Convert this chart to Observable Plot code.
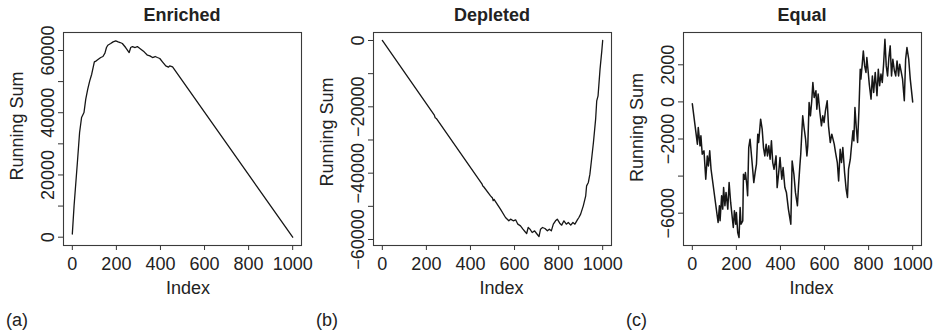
<!DOCTYPE html>
<html><head><meta charset="utf-8">
<script src="https://cdn.jsdelivr.net/npm/d3@7"></script>
<script src="https://cdn.jsdelivr.net/npm/@observablehq/plot@0.6"></script>
<style>
body{margin:0;background:#fff;}
#wrap{position:relative;width:938px;height:335px;overflow:hidden;font-family:"Liberation Sans",Arial,Helvetica,sans-serif;}
#wrap svg{position:absolute;top:0;}
</style></head><body><div id="wrap"></div>
<script>
const panelTitles = ["Enriched", "Depleted", "Equal"];
const panelTags = ["(a)", "(b)", "(c)"];
const xLabel = "Index";
const yLabel = "Running Sum";
const xTicks = [0, 200, 400, 600, 800, 1000];

const enrichedIndex = [0, 8, 23, 33, 42, 53, 61, 70, 79, 88,
  100, 109, 118, 129, 139, 148, 155, 161, 174, 185,
  197, 208, 217, 227, 242, 258, 265, 273, 285, 295,
  311, 326, 341, 352, 364, 376, 386, 397, 409, 424,
  436, 442, 455, 1000];
const enrichedSum = [1000, 10080, 24000, 33640, 38460, 40070, 44350, 47560, 50240, 52380,
  56350, 56670, 57200, 57740, 58060, 59130, 60950, 61700, 62240, 62770,
  63090, 62770, 62560, 62240, 60950, 59340, 60950, 61270, 60950, 61270,
  60420, 59560, 58490, 58270, 57740, 58060, 57740, 57420, 56350, 55060,
  54630, 55060, 54740, 0];
const enrichedYTicks = [0, 10000, 20000, 30000, 40000, 50000, 60000];
const enrichedYLabels = [0, 20000, 40000, 60000];

const depletedIndex = [0, 236, 240, 245, 452, 456, 460, 491, 500, 503,
  507, 536, 559, 574, 582, 594, 605, 615, 627, 638,
  647, 655, 662, 670, 680, 691, 700, 711, 718, 727,
  738, 749, 758, 767, 776, 786, 794, 805, 814, 824,
  835, 844, 855, 865, 874, 885, 892, 900, 912, 923,
  927, 935, 942, 948, 958, 968, 973, 979, 988, 996, 1000];
const depletedSum = [0, -22500, -23300, -23500, -43200, -43900, -44100, -46830, -47500, -48300,
  -47900, -50850, -53370, -54370, -53870, -54370, -54070, -55380, -55880, -56880,
  -57590, -58190, -56380, -56880, -57890, -57390, -58190, -59100, -56880, -56380,
  -56680, -57390, -56880, -57390, -55380, -54370, -53870, -55080, -55680, -54370,
  -55380, -54880, -55680, -54880, -55380, -54070, -53370, -52360, -49850, -46830,
  -43820, -42810, -40300, -36780, -30750, -23720, -18190, -16680, -8640, -3120, 0];
const depletedYTicks = [0, -10000, -20000, -30000, -40000, -50000, -60000];
const depletedYLabels = [0, -20000, -40000, -60000];

const equalIndex = [0, 23, 27, 35, 39, 45, 53, 61, 68, 73,
  79, 85, 117, 123, 126, 133, 138, 142, 148, 153,
  161, 167, 174, 186, 191, 197, 200, 206, 212, 217,
  221, 229, 232, 238, 241, 247, 251, 256, 262, 270,
  279, 285, 291, 297, 301, 310, 317, 323, 329, 335,
  341, 347, 353, 359, 365, 371, 380, 385, 392, 398,
  406, 412, 420, 427, 436, 447, 453, 461, 468, 477,
  482, 488, 492, 497, 501, 507, 514, 520, 524, 530,
  536, 542, 547, 553, 561, 565, 571, 579, 586, 592,
  598, 604, 612, 618, 626, 633, 644, 650, 658, 664,
  671, 677, 683, 691, 698, 704, 709, 717, 721, 729,
  733, 738, 744, 750, 756, 762, 765, 771, 776, 782,
  788, 792, 797, 803, 811, 817, 823, 830, 838, 844,
  850, 856, 862, 868, 874, 880, 886, 892, 898, 904,
  910, 917, 923, 929, 936, 941, 947, 954, 962, 968,
  974, 982, 989, 1000];
const equalSum = [-100, -2280, -1380, -2370, -1830, -2820, -2640, -4170, -2910, -3450,
  -2640, -3630, -6500, -5600, -6410, -5060, -5780, -4620, -5600, -4880,
  -5780, -4350, -5420, -6770, -5870, -6590, -5960, -7040, -7310, -5690,
  -6590, -6410, -3900, -4170, -3810, -4440, -5060, -2460, -2010, -3090,
  -4350, -3810, -3360, -1740, -2190, -930, -1470, -2460, -2910, -2280,
  -2910, -2370, -3090, -2100, -3270, -3630, -2910, -4620, -3810, -3000,
  -4170, -3540, -4620, -4880, -5780, -6590, -3180, -3900, -4880, -5600,
  -4530, -3450, -2820, -1650, -750, -1380, -2010, -2910, -2370, -30,
  -750, 60, 1050, 240, 600, -390, 420, -570, -1290, -750,
  -1110, -480, 60, -1290, -2190, -1740, -2280, -2730, -3270, -4260,
  -2550, -3270, -2460, -3810, -4700, -5150, -3630, -3090, -2550, -1560,
  -2100, -300, -1380, -2190, -480, 1760, 1230, 2030, 2750, 1940,
  1590, 2390, 1760, 960, 150, 1400, 510, 1590, 330, 1760,
  870, 1500, 1050, 2030, 3380, 1940, 1400, 2390, 3020, 1400,
  2300, 1680, 1400, 2210, 1400, 2030, 1680, 1230, 60, 2300,
  2930, 2300, 1230, 0];
const equalYTicks = [-6000, -4000, -2000, 0, 2000];
const equalYLabels = [-6000, -2000, 0, 2000];

const FONT = '"Liberation Sans", Arial, Helvetica, sans-serif';
const wrap = document.getElementById("wrap");

function panel(k, xs, ys, yDomain, yTicks, yLabels, cfg) {
  const n = Math.min(xs.length, ys.length);
  const data = d3.range(n).map(i => ({x: xs[i], y: ys[i]}));
  const fmtY = d => yLabels.includes(d) ? String(d).replace("-", "\u2212") : "";
  const fmtX = d => String(d);
  const svg = Plot.plot({
    width: cfg.width, height: 335,
    marginLeft: 63, marginRight: cfg.width - 301, marginTop: 32, marginBottom: 90,
    style: {fontFamily: FONT, fontSize: "18px", color: "#222", background: "transparent", overflow: "visible"},
    x: {domain: [-40, 1040]},
    y: {domain: yDomain},
    marks: [
      Plot.axisX({ticks: xTicks, tickSize: 5, tickPadding: 7, tickFormat: fmtX, label: null, fontSize: 18, stroke: "#333"}),
      Plot.axisY({ticks: yTicks, tickSize: 5, tickPadding: 5, tickRotate: -90, tickFormat: fmtY, label: null, fontSize: 18, stroke: "#333"}),
      Plot.line(data, {x: "x", y: "y", stroke: "#161616", strokeWidth: cfg.sw}),
      Plot.frame({stroke: "#3a3a3a", strokeWidth: 1.1})
    ]
  });
  svg.style.left = cfg.left + "px";
  const s = d3.select(svg);
  s.append("text").attr("x", 182).attr("y", 20.5).attr("text-anchor", "middle")
    .attr("font-weight", "bold").attr("font-size", 18).attr("fill", "#222").attr("font-family", FONT)
    .text(panelTitles[k]);
  s.append("text").attr("transform", `translate(23,${cfg.ylabY}) rotate(-90)`).attr("text-anchor", "middle")
    .attr("font-size", 18).attr("fill", "#222").attr("font-family", FONT).text(yLabel);
  s.append("text").attr("x", cfg.xlabX).attr("y", 294).attr("text-anchor", "middle")
    .attr("font-size", 18).attr("fill", "#222").attr("font-family", FONT).text(xLabel);
  s.append("text").attr("x", 6).attr("y", 326).attr("text-anchor", "start")
    .attr("font-size", 18).attr("fill", "#222").attr("font-family", FONT).text(panelTags[k]);
  wrap.appendChild(svg);
}

panel(0, enrichedIndex, enrichedSum, [-2670, 65780], enrichedYTicks, enrichedYLabels,
  {width: 310, left: 0, ylabY: 126, xlabX: 188, sw: 1.3});
panel(1, depletedIndex, depletedSum, [-61810, 2410], depletedYTicks, depletedYLabels,
  {width: 310, left: 310, ylabY: 132, xlabX: 191.5, sw: 1.3});
panel(2, equalIndex, equalSum, [-7741, 3741], equalYTicks, equalYLabels,
  {width: 318, left: 620, ylabY: 127.5, xlabX: 191.5, sw: 1.5});
</script></body></html>
